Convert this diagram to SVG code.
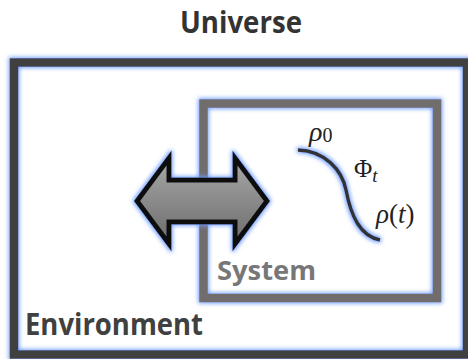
<svg xmlns="http://www.w3.org/2000/svg" width="468" height="359" viewBox="0 0 468 359">
<style>
.lbl{font-family:"Open Sans","Liberation Sans",sans-serif;font-weight:bold}
.math{font-family:"Liberation Serif","DejaVu Serif",serif;font-style:italic;fill:#222}
</style>
<defs>
<filter id="glow" x="-20%" y="-20%" width="140%" height="140%">
<feMorphology in="SourceAlpha" operator="dilate" radius="1" result="d"/>
<feGaussianBlur in="d" stdDeviation="2" result="b"/>
<feFlood flood-color="#6f9cff" flood-opacity="1"/>
<feComposite in2="b" operator="in" result="g"/>
<feMerge><feMergeNode in="g"/><feMergeNode in="SourceGraphic"/></feMerge>
</filter>
<linearGradient id="ag" x1="0" y1="0" x2="0" y2="1">
<stop offset="0" stop-color="#a8a8a8"/>
<stop offset="1" stop-color="#6c6c6c"/>
</linearGradient>
</defs>
<rect width="468" height="359" fill="#fff"/>
<text class="lbl" x="241" y="33" font-size="30" fill="#333" text-anchor="middle" textLength="122" lengthAdjust="spacingAndGlyphs">Universe</text>
<g id="environment">
<rect x="14" y="62.5" width="453" height="292" fill="none" stroke="#404040" stroke-width="8.5" filter="url(#glow)"/>
<text class="lbl" x="25" y="335" font-size="30" fill="#404040" textLength="178" lengthAdjust="spacingAndGlyphs">Environment</text>
</g>
<g id="system">
<rect x="203.5" y="103.5" width="233.5" height="194.5" fill="none" stroke="#716d6d" stroke-width="8.5" filter="url(#glow)"/>
<text class="lbl" x="217" y="280" font-size="26" fill="#777" textLength="99" lengthAdjust="spacingAndGlyphs">System</text>
</g>
<g id="evolution">
<path d="M298,150 C325,151 342,170 346,190 C351,216 360,236 380,240" fill="none" stroke="#333" stroke-width="3.5" filter="url(#glow)"/>
<text class="math" x="309" y="141" font-size="28">ρ<tspan font-style="normal" font-size="20" dy="1">0</tspan></text>
<text class="math" x="354" y="177" font-size="25"><tspan font-style="normal">Φ</tspan><tspan font-size="19" dy="5">t</tspan></text>
<text class="math" x="376" y="223" font-size="27">ρ<tspan font-style="normal">(</tspan>t<tspan font-style="normal">)</tspan></text>
</g>
<g id="connectors">
<polygon points="137,201 169,158 169,180 235,180 235,158 267,201 235,244 235,222 169,222 169,244" fill="url(#ag)" stroke="#111" stroke-width="5" stroke-linejoin="miter" filter="url(#glow)"/>
</g>
</svg>
